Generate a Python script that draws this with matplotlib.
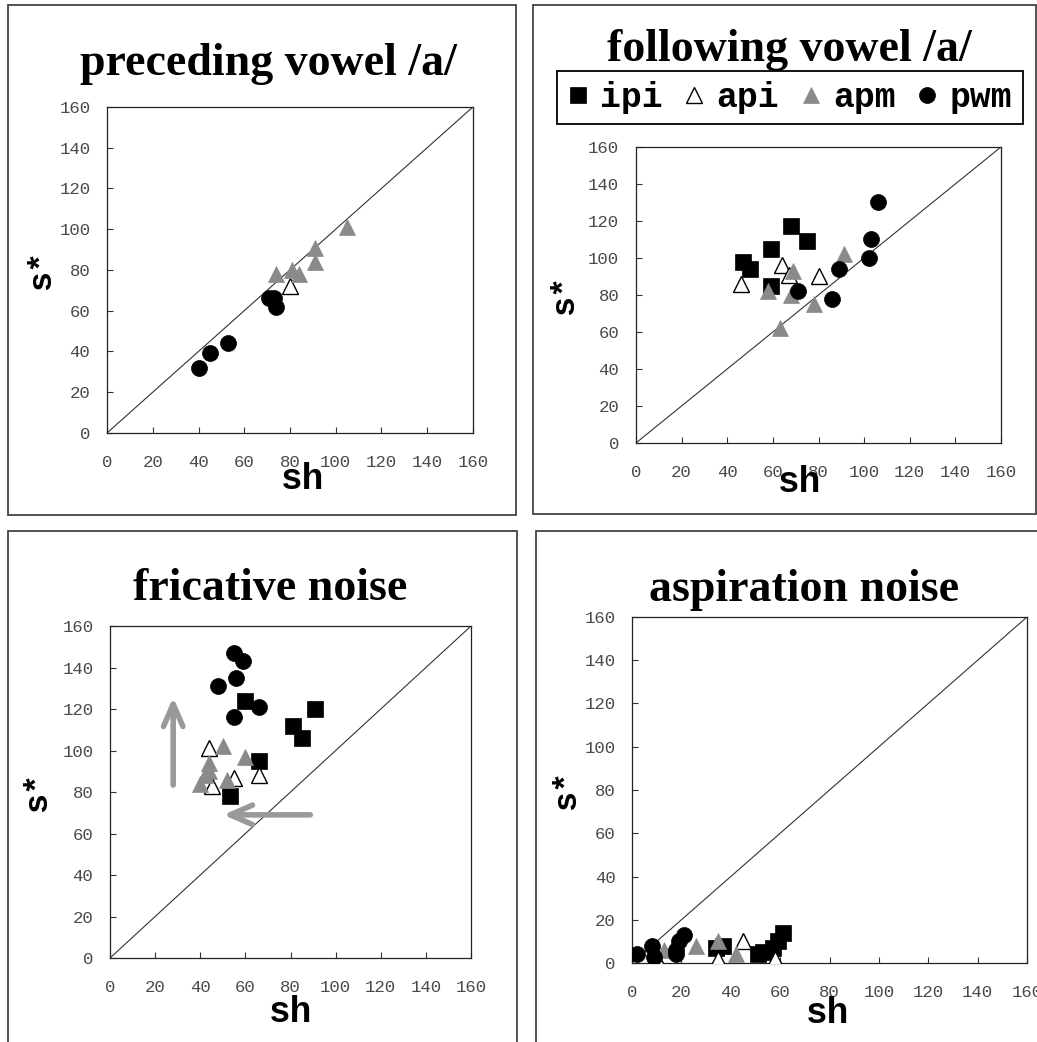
import matplotlib.pyplot as plt
from matplotlib.patches import Rectangle
from matplotlib.lines import Line2D

# values (sh, s*)
titles = ["preceding vowel /a/", "following vowel /a/", "fricative noise", "aspiration noise"]
groups = ["ipi", "api", "apm", "pwm"]
ticks = [0, 20, 40, 60, 80, 100, 120, 140, 160]

pre_ipi_x, pre_ipi_y = [], []
pre_api_x, pre_api_y = [80], [72]
pre_apm_x = [74, 81, 84, 91, 91, 105]
pre_apm_y = [78, 80, 78, 91, 84, 101]
pre_pwm_x = [40, 45, 53, 71, 73, 74]
pre_pwm_y = [32, 39, 44, 66, 66, 62]

fol_ipi_x = [47, 50, 59, 68, 75, 59]
fol_ipi_y = [98, 94, 105, 117, 109, 85]
fol_api_x = [46, 64, 67, 80]
fol_api_y = [86, 96, 91, 90]
fol_apm_x = [58, 69, 68, 78, 63, 91]
fol_apm_y = [82, 93, 80, 75, 62, 102]
fol_pwm_x = [71, 89, 86, 102, 103, 106]
fol_pwm_y = [82, 94, 78, 100, 110, 130]

fri_ipi_x = [60, 81, 85, 91, 66, 53]
fri_ipi_y = [124, 112, 106, 120, 95, 78]
fri_api_x = [44, 55, 66, 45]
fri_api_y = [101, 87, 88, 83]
fri_apm_x = [50, 60, 44, 42, 40, 52, 44]
fri_apm_y = [102, 97, 94, 88, 84, 86, 90]
fri_pwm_x = [55, 59, 56, 48, 66, 55]
fri_pwm_y = [147, 143, 135, 131, 121, 116]

asp_ipi_x = [34, 37, 51, 53, 57, 59, 61]
asp_ipi_y = [7, 8, 4, 5, 7, 10, 14]
asp_api_x = [10, 35, 45, 58]
asp_api_y = [2, 2, 10, 2]
asp_apm_x = [13, 26, 35, 42]
asp_apm_y = [6, 8, 10, 4]
asp_pwm_x = [2, 8, 9, 18, 18, 19, 21]
asp_pwm_y = [4, 8, 3, 4, 6, 10, 13]

data = [
    [(pre_ipi_x, pre_ipi_y), (pre_api_x, pre_api_y), (pre_apm_x, pre_apm_y), (pre_pwm_x, pre_pwm_y)],
    [(fol_ipi_x, fol_ipi_y), (fol_api_x, fol_api_y), (fol_apm_x, fol_apm_y), (fol_pwm_x, fol_pwm_y)],
    [(fri_ipi_x, fri_ipi_y), (fri_api_x, fri_api_y), (fri_apm_x, fri_apm_y), (fri_pwm_x, fri_pwm_y)],
    [(asp_ipi_x, asp_ipi_y), (asp_api_x, asp_api_y), (asp_apm_x, asp_apm_y), (asp_pwm_x, asp_pwm_y)],
]

styles = [
    dict(marker="s", ms=11, mfc="black", mec="black", mew=0.5),
    dict(marker="^", ms=12, mfc="white", mec="black", mew=1.0),
    dict(marker="^", ms=12, mfc="#8a8a8a", mec="#8a8a8a", mew=0.5),
    dict(marker="o", ms=11.5, mfc="black", mec="black", mew=0.5),
]

# axes rectangles, figure fraction
rects = [
    [0.1032, 0.5845, 0.3529, 0.3129],
    [0.6133, 0.5749, 0.3520, 0.2841],
    [0.1061, 0.0806, 0.3481, 0.3186],
    [0.6095, 0.0758, 0.3809, 0.3321],
]
title_pos = [(0.259, 0.939), (0.761, 0.952), (0.261, 0.435), (0.775, 0.434)]
xlab_pos = [(0.533, -0.144), (0.449, -0.132), (0.5, -0.163), (0.496, -0.145)]
ylab_pos = [(-0.178, 0.5), (-0.195, 0.5), (-0.2, 0.5), (-0.165, 0.5)]
frames = [
    (0.0077, 0.5058, 0.4899, 0.4894),
    (0.5140, 0.5067, 0.4850, 0.4885),
    (0.0077, -0.02, 0.4908, 0.5104),
    (0.5169, -0.02, 0.5000, 0.5104),
]

fig = plt.figure(figsize=(10.37, 10.42), dpi=100)
fig.patch.set_facecolor("white")

axes = []
for i in range(4):
    ax = fig.add_axes(rects[i])
    axes.append(ax)
    ax.plot([0, 160], [0, 160], color="#333333", lw=0.8, zorder=1)
    for (xs, ys), st in zip(data[i], styles):
        ax.plot(xs, ys, ls="none", zorder=3, **st)
    ax.set_xlim(0, 160)
    ax.set_ylim(0, 160)
    ax.set_xticks(ticks)
    ax.set_yticks(ticks)
    ax.tick_params(direction="in", length=4, width=0.8, labelsize=12.5,
                   labelcolor="#4a4a4a", colors="#333333")
    ax.tick_params(axis="x", pad=16)
    ax.tick_params(axis="y", pad=12)
    for lab in ax.get_xticklabels() + ax.get_yticklabels():
        lab.set_family("Liberation Mono")
    for sp in ax.spines.values():
        sp.set_linewidth(0.9)
        sp.set_color("#222222")
    ax.text(xlab_pos[i][0], xlab_pos[i][1], "sh", transform=ax.transAxes,
            ha="center", va="center", fontsize=26, fontweight="bold",
            family="Liberation Mono")
    ax.text(ylab_pos[i][0], ylab_pos[i][1], "s*", transform=ax.transAxes,
            ha="center", va="center", rotation=90, fontsize=24,
            fontweight="bold", family="Liberation Mono")
    fig.text(title_pos[i][0], title_pos[i][1], titles[i], ha="center",
             va="center", fontsize=33, fontweight="bold",
             family="Liberation Serif")
    fig.patches.append(Rectangle(frames[i][:2], frames[i][2], frames[i][3],
                                 transform=fig.transFigure, fill=False,
                                 ec="#444444", lw=1.3))

# arrows in the fricative panel
ax3 = axes[2]
ax3.annotate("", xy=(28, 127), xytext=(28, 82),
             arrowprops=dict(arrowstyle="->,head_length=1.6,head_width=0.7",
                             color="#999999", lw=4))
ax3.annotate("", xy=(49, 69), xytext=(90, 69),
             arrowprops=dict(arrowstyle="->,head_length=1.6,head_width=0.7",
                             color="#999999", lw=4))

# legend
handles = [Line2D([], [], ls="none", **st) for st in styles]
leg = axes[1].legend(handles, groups, loc="center", ncol=4,
                     bbox_to_anchor=(0.7615, 0.9065), bbox_transform=fig.transFigure,
                     prop=dict(family="Liberation Mono", weight="bold", size=25),
                     handlelength=0.6, handletextpad=0.35, columnspacing=0.6,
                     borderpad=0.3, fancybox=False, framealpha=1,
                     edgecolor="black")
leg.get_frame().set_linewidth(1.3)

fig.savefig("out.png", dpi=100)
